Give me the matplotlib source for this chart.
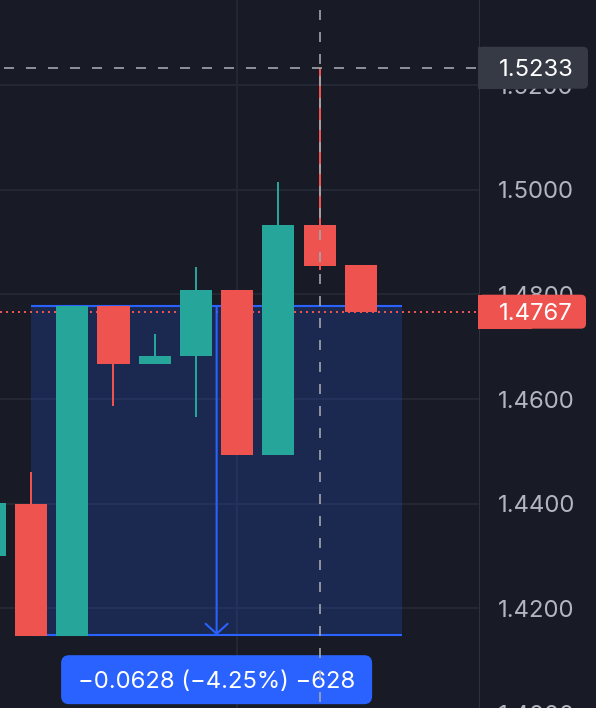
import matplotlib
matplotlib.use("Agg")
import matplotlib.pyplot as plt
from matplotlib.patches import FancyBboxPatch, Rectangle
from matplotlib.transforms import IdentityTransform

plt.rcParams['font.family'] = ['Inter', 'DejaVu Sans']
plt.rcParams['lines.scale_dashes'] = False

# candles, index 0 is cut off at the left edge
opens  = [1.4300, 1.4400, 1.4147, 1.4777, 1.4668, 1.4682, 1.4809, 1.4494, 1.4933, 1.4857]
highs  = [1.4402, 1.4461, 1.4777, 1.4777, 1.4725, 1.4853, 1.4809, 1.5015, 1.5233, 1.4857]
lows   = [1.4300, 1.4147, 1.4147, 1.4587, 1.4668, 1.4566, 1.4494, 1.4494, 1.4847, 1.4767]
closes = [1.4402, 1.4147, 1.4777, 1.4668, 1.4683, 1.4809, 1.4494, 1.4933, 1.4855, 1.4767]

price_ticks = [1.40, 1.42, 1.44, 1.46, 1.48, 1.50, 1.52]
time_grid = [6]
last_price = 1.4767
cross_index = 8
cross_price = 1.5233
measure_start = (1, 1.4777)
measure_end = (10, 1.4149)

BG = '#181b25'
GRID = '#252935'
TEAL = '#26a69a'
RED = '#ef5350'
BLUE = '#2962ff'
CROSS = '#a3a6af'
TICK = '#b2b5be'
FS = 17.2

fig = plt.figure(figsize=(5.96, 7.08), dpi=100, facecolor=BG)
ax = fig.add_axes([0, 0, 479 / 596, 1])
ax.set_xlim(0.2485, 11.861)
ax.set_ylim(1.40099, 1.53624)
ax.set_axis_off()

axs = fig.add_axes([479 / 596, 0, 117 / 596, 1])
axs.set_xlim(0, 117)
axs.set_ylim(ax.get_ylim())
axs.set_axis_off()

# grid
for p in price_ticks:
    ax.axhline(p, color=GRID, lw=1.3, zorder=0.5)
for t in time_grid:
    ax.axvline(t, color=GRID, lw=1.3, zorder=0.5)

# measurement box
x0, p0 = measure_start
x1, p1 = measure_end
ax.fill_between([x0, x1], p1, p0, color=BLUE, alpha=0.2, lw=0, zorder=1)
ax.hlines([p0, p1], x0, x1, color=BLUE, lw=1.5, zorder=1.5)
xm = (x0 + x1) / 2
ax.annotate('', xy=(xm, p1), xytext=(xm, p0),
            arrowprops=dict(arrowstyle='->,head_length=1.0,head_width=1.1',
                            mutation_scale=7.2, color=BLUE, lw=1.5,
                            shrinkA=0, shrinkB=0), zorder=2)

# last price line
ax.axhline(last_price, color=RED, lw=1.44, ls=(0, (1.44, 2.88)), zorder=1.6)

# candles
for i, (o, h, l, c) in enumerate(zip(opens, highs, lows, closes)):
    col = TEAL if c >= o else RED
    ax.vlines(i, l, h, color=col, lw=1.44, zorder=3)
    ax.bar(i, abs(c - o), bottom=min(o, c), width=0.776, color=col, lw=0, zorder=4)

# measurement label
diff = p1 - p0
pct = diff / p0 * 100
pips = round(diff * 10000)
label = f"{diff:.4f} ({pct:.2f}%) {pips}".replace('-', '\u2212')
bx, by = ax.transData.transform((xm, p1))
box = FancyBboxPatch((bx - 155.5, by - 69), 311, 49,
                     boxstyle="round,pad=0,rounding_size=8",
                     transform=IdentityTransform(), fc=BLUE, ec='none', zorder=6)
ax.add_artist(box)
ax.text(bx, by - 44.5, label, transform=IdentityTransform(), ha='center',
        va='center_baseline', color='white', fontsize=FS, zorder=7)

# crosshair
ax.axhline(cross_price, color=CROSS, lw=1.2, ls=(12.96, (7.2, 8.64)), zorder=10)
ytop, ybot = ax.get_ylim()[1], ax.get_ylim()[0]
ax.plot([cross_index, cross_index], [ytop, ybot], color=CROSS, lw=1.2,
        ls=(8.64, (7.2, 8.64)), zorder=10)

# price scale
axs.axvline(0, color='#2f333e', lw=1.4, zorder=1)
for p in price_ticks:
    axs.text(19, p, f"{p:.4f}", ha='left', va='center_baseline', color=TICK,
             fontsize=FS, zorder=2, clip_on=False)


def price_tag(price, color, w, h):
    _, yc = ax.transData.transform((0, price))
    xd = fig.bbox.width * 479 / 596 - 1
    axs.add_artist(FancyBboxPatch((xd, yc - h / 2), w, h,
                                  boxstyle="round,pad=0,rounding_size=5",
                                  transform=IdentityTransform(), fc=color,
                                  ec='none', zorder=5, clip_on=False))
    axs.add_artist(Rectangle((xd, yc - h / 2), w / 2, h,
                             transform=IdentityTransform(), fc=color,
                             ec='none', zorder=5, clip_on=False))
    axs.text(20, price, f"{price:.4f}", ha='left', va='center_baseline',
             color='white', fontsize=FS, zorder=6, clip_on=False)


price_tag(last_price, RED, 108, 34)
price_tag(cross_price, '#363a45', 110, 42)

fig.savefig('out.png', dpi=100, facecolor=BG)
